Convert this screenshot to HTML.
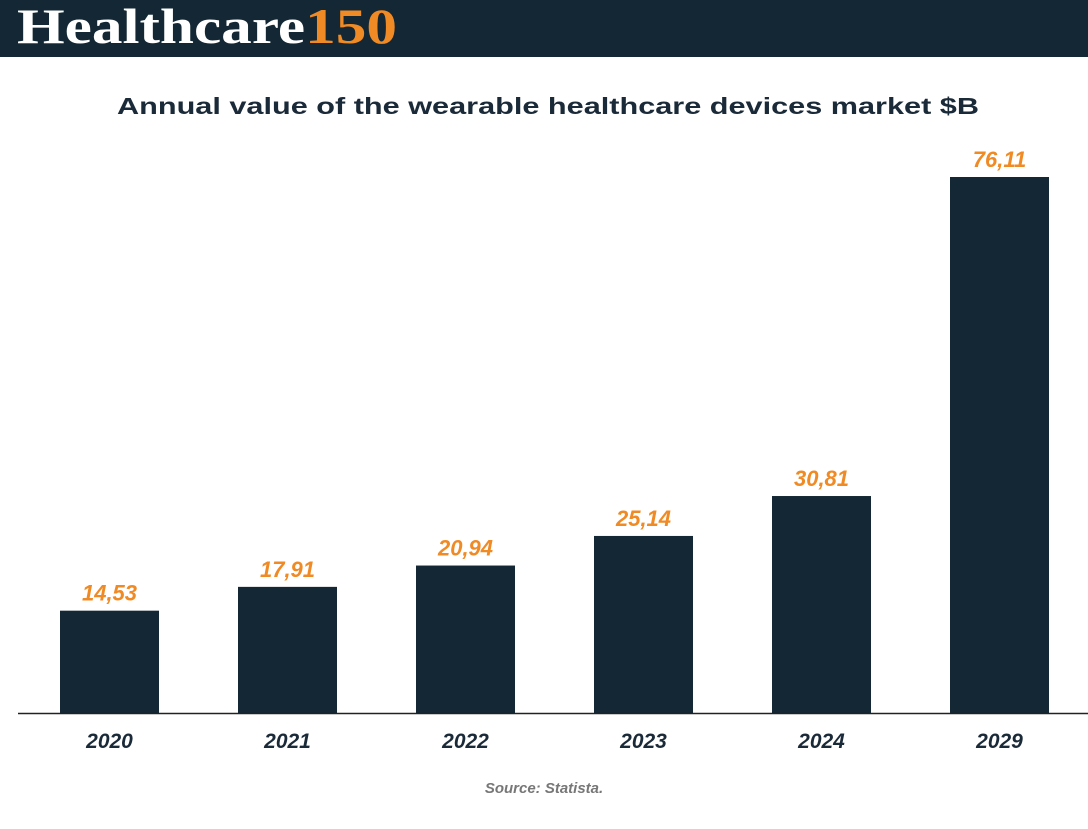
<!DOCTYPE html>
<html><head><meta charset="utf-8"><style>
html,body{margin:0;padding:0;background:#fff;width:1088px;height:829px;overflow:hidden}
svg text{font-family:"Liberation Sans",sans-serif}
</style></head><body>
<svg id="chart" width="1088" height="829" viewBox="0 0 1088 829" xmlns="http://www.w3.org/2000/svg">
<rect x="0" y="0" width="1088" height="57" fill="#132834"/>
<text x="17" y="43" font-family="Liberation Serif,serif" font-weight="bold" font-size="50" textLength="380" lengthAdjust="spacingAndGlyphs" fill="#fff" style="font-family:'Liberation Serif',serif">Healthcare<tspan fill="#f08a24">150</tspan></text>
<text x="548" y="114" text-anchor="middle" font-weight="bold" font-size="23" fill="#1b2a38" textLength="862" lengthAdjust="spacingAndGlyphs">Annual value of the wearable healthcare devices market $B</text>
<g id="bars"></g>
<line x1="18" y1="713.5" x2="1088" y2="713.5" stroke="#222" stroke-width="1.5"/>
<text x="544" y="793" text-anchor="middle" font-weight="bold" font-style="italic" font-size="15" fill="#777">Source: Statista.</text>
</svg>
<script>
const categories=["2020","2021","2022","2023","2024","2029"];
const values=[14.53,17.91,20.94,25.14,30.81,76.11];
const labels=["14,53","17,91","20,94","25,14","30,81","76,11"];
const NS="http://www.w3.org/2000/svg";
const baseY=713, pxPerUnit=536/76.11;
const y=v=>baseY-v*pxPerUnit;
const x=i=>60+i*178;
const bw=99;
const g=document.getElementById('bars');
categories.forEach((c,i)=>{
  const r=document.createElementNS(NS,'rect');
  
  
  r.setAttribute('x',x(i));r.setAttribute('y',y(values[i]));
  r.setAttribute('width',bw);r.setAttribute('height',baseY-y(values[i]));
  r.setAttribute('fill','#132834');g.appendChild(r);
  const t=document.createElementNS(NS,'text');
  
  
  t.setAttribute('x',x(i)+bw/2);t.setAttribute('y',y(values[i])-10);
  t.setAttribute('text-anchor','middle');t.setAttribute('font-weight','bold');
  t.setAttribute('font-style','italic');t.setAttribute('font-size','22');
  t.setAttribute('fill','#f08a24');t.textContent=labels[i];g.appendChild(t);
  const xl=document.createElementNS(NS,'text');
  
  
  xl.setAttribute('x',x(i)+bw/2);xl.setAttribute('y',748);
  xl.setAttribute('text-anchor','middle');xl.setAttribute('font-weight','bold');
  xl.setAttribute('font-style','italic');xl.setAttribute('font-size','21');
  xl.setAttribute('fill','#1b2a38');xl.textContent=c;g.appendChild(xl);
});
</script>
</body></html>
